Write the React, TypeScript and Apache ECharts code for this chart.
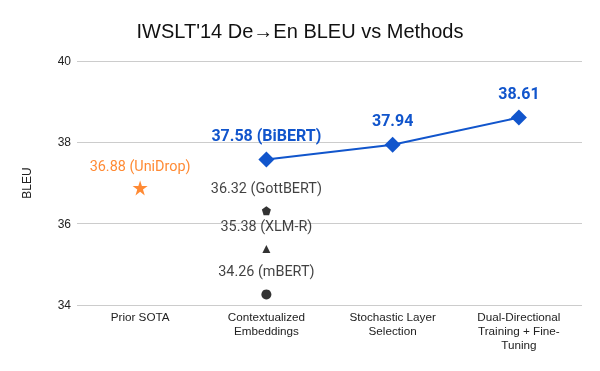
import React, { useEffect, useRef } from "react";
import * as echarts from "echarts";

const categories = [
  "Prior SOTA",
  "Contextualized\nEmbeddings",
  "Stochastic Layer\nSelection",
  "Dual-Directional\nTraining + Fine-\nTuning",
];
const bibertValues = [null, 37.58, 37.94, 38.61];
const bibertLabels = ["", "37.58 (BiBERT)", "37.94", "38.61"];
const unidrop = { cat: 0, value: 36.88, label: "36.88 (UniDrop)" };
const gottbert = { cat: 1, value: 36.32, label: "36.32 (GottBERT)" };
const xlmr = { cat: 1, value: 35.38, label: "35.38 (XLM-R)" };
const mbert = { cat: 1, value: 34.26, label: "34.26 (mBERT)" };
const yTicks = { min: 34, max: 40, interval: 2 };

const STAR =
  "path://M50,0 L61.8,36.2 L100,36.2 L69.1,58.6 L80.9,95.1 L50,72.7 L19.1,95.1 L30.9,58.6 L0,36.2 L38.2,36.2 Z";
const PENTAGON = "path://M50,0 L100,36.3 L80.9,95.1 L19.1,95.1 L0,36.3 Z";

export default function App() {
  const ref = useRef<HTMLDivElement>(null);
  useEffect(() => {
    const chart = echarts.init(ref.current!, null, { renderer: "svg" });
    const blackLabel = (text: string) => ({
      show: true,
      position: "top",
      distance: 11,
      formatter: () => text,
      color: "#111",
      fontFamily: "Roboto",
      fontSize: 14.4,
    });
    chart.setOption({
      animation: false,
      title: {
        text: "IWSLT'14 De\u2192En BLEU vs Methods",
        left: "center",
        top: 16,
        textStyle: {
          fontFamily: "Liberation Sans",
          fontSize: 20,
          fontWeight: "normal",
          color: "#111",
        },
      },
      grid: { left: 77, right: 18, top: 61, bottom: 66 },
      xAxis: {
        type: "category",
        data: categories,
        axisLine: { show: false },
        axisTick: { show: false },
        axisLabel: {
          fontFamily: "Liberation Sans",
          fontSize: 11.7,
          color: "#222",
          lineHeight: 14,
          margin: 4,
          interval: 0,
        },
      },
      yAxis: {
        type: "value",
        min: yTicks.min,
        max: yTicks.max,
        interval: yTicks.interval,
        name: "BLEU",
        nameLocation: "middle",
        nameGap: 44,
        nameTextStyle: {
          fontFamily: "Liberation Sans",
          fontSize: 12,
          color: "#222",
        },
        axisLabel: {
          fontFamily: "Liberation Sans",
          fontSize: 12,
          color: "#222",
          margin: 6,
        },
        splitLine: { lineStyle: { color: "#cccccc", width: 1 } },
      },
      series: [
        {
          type: "line",
          data: bibertValues,
          symbol: "diamond",
          symbolSize: 16,
          color: "#1155cc",
          lineStyle: { width: 2, color: "#1155cc" },
          itemStyle: { color: "#1155cc" },
          label: {
            show: true,
            position: "top",
            distance: 8,
            formatter: (p: any) => bibertLabels[p.dataIndex],
            color: "#1155cc",
            fontFamily: "Roboto",
            fontWeight: "bold",
            fontSize: 16,
          },
        },
        {
          type: "scatter",
          data: [[unidrop.cat, unidrop.value]],
          symbol: STAR,
          symbolSize: 15,
          itemStyle: { color: "#ff6d01" },
          label: {
            show: true,
            position: "top",
            distance: 7,
            formatter: () => unidrop.label,
            color: "#ff6d01",
            fontFamily: "Roboto",
            fontSize: 14.4,
          },
        },
        {
          type: "scatter",
          data: [[gottbert.cat, gottbert.value]],
          symbol: PENTAGON,
          symbolSize: 9,
          itemStyle: { color: "#000" },
          label: blackLabel(gottbert.label),
        },
        {
          type: "scatter",
          data: [[xlmr.cat, xlmr.value]],
          symbol: "triangle",
          symbolSize: 8,
          itemStyle: { color: "#000" },
          label: blackLabel(xlmr.label),
        },
        {
          type: "scatter",
          data: [[mbert.cat, mbert.value]],
          symbol: "circle",
          symbolSize: 10,
          itemStyle: { color: "#000" },
          label: blackLabel(mbert.label),
        },
      ],
    });
    return () => chart.dispose();
  }, []);
  return (
    <div
      ref={ref}
      style={{ position: "fixed", left: 0, top: 0, width: 600, height: 371 }}
    />
  );
}
